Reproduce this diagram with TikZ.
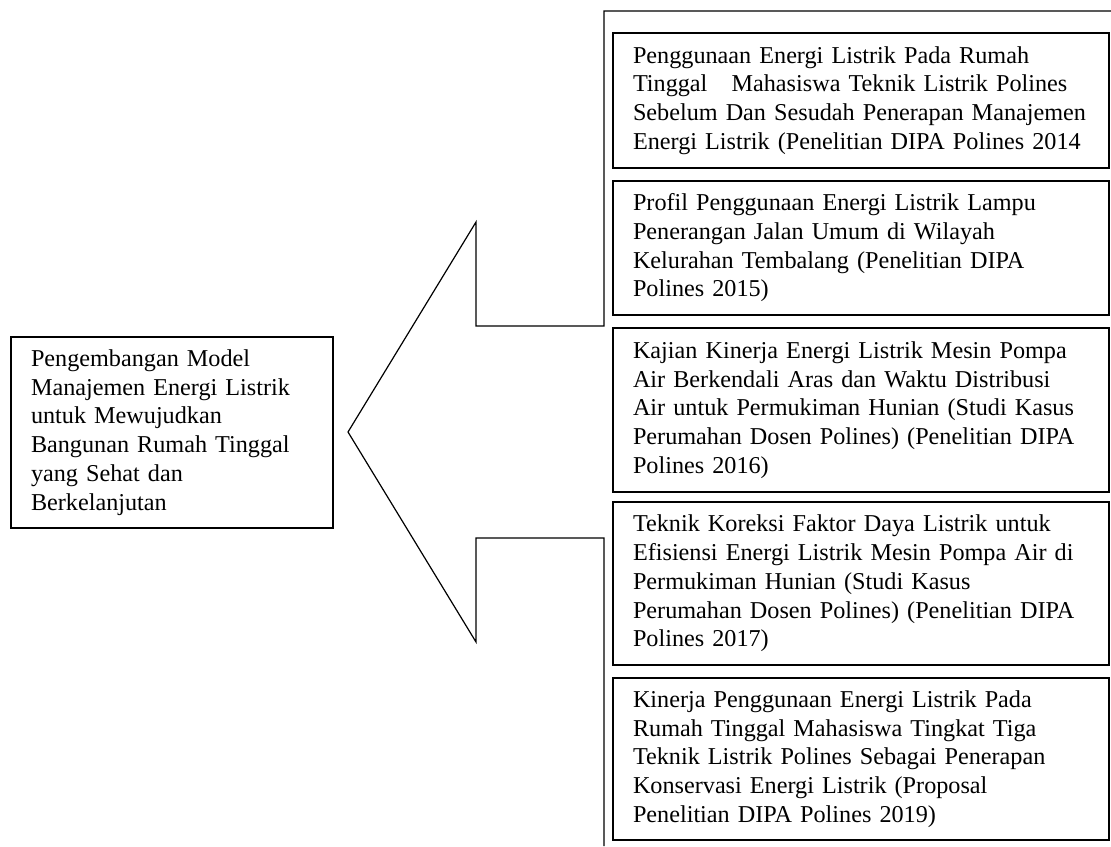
\documentclass[tikz,border=0pt]{standalone}
\usepackage{fontspec}
\setmainfont{Liberation Serif}
\tikzset{
	kotak/.style={draw, line width=0.8pt, inner xsep=10pt, inner ysep=0pt, align=left, font=\fontsize{12.1}{14.35}\selectfont},
	kanan/.style={kotak, minimum width=248pt, text width=228pt},
}

\begin{document}
\begin{tikzpicture}[x=0.5pt, y=-0.5pt]
		%%%%% START %%%%%
		\useasboundingbox (0, 0) rectangle (1111, 846);
		
		\node[kotak, minimum width=161pt, minimum height=95.5pt, text width=141pt] (utama) at (172, 432.5) {Pengembangan Model\\Manajemen Energi Listrik\\untuk Mewujudkan\\Bangunan Rumah Tinggal\\yang Sehat dan\\Berkelanjutan};
		
		\draw[line width=0.6pt] (1111, 11) -- (604, 11) -- (604, 326) -- (476, 326) -- (476, 222) -- (348, 432) -- (476, 642) -- (476, 538) -- (604, 538) -- (604, 846);
		
		\node[kanan, minimum height=67.5pt] (p2014) at (861, 100.5) {Penggunaan Energi Listrik Pada Rumah\\Tinggal\ \ \ Mahasiswa Teknik Listrik Polines\\Sebelum Dan Sesudah Penerapan Manajemen\\Energi Listrik (Penelitian DIPA Polines 2014};
		\node[kanan, minimum height=67pt] (p2015) at (861, 248) {Profil Penggunaan Energi Listrik Lampu\\Penerangan Jalan Umum di Wilayah\\Kelurahan Tembalang (Penelitian DIPA\\Polines 2015)};
		\node[kanan, minimum height=82pt] (p2016) at (861, 410) {Kajian Kinerja Energi Listrik Mesin Pompa\\Air Berkendali Aras dan Waktu Distribusi\\Air untuk Permukiman Hunian (Studi Kasus\\Perumahan Dosen Polines) (Penelitian DIPA\\Polines 2016)};
		\node[kanan, minimum height=81.5pt] (p2017) at (861, 583.5) {Teknik Koreksi Faktor Daya Listrik untuk\\Efisiensi Energi Listrik Mesin Pompa Air di\\Permukiman Hunian (Studi Kasus\\Perumahan Dosen Polines) (Penelitian DIPA\\Polines 2017)};
		\node[kanan, minimum height=81pt] (p2019) at (861, 759) {Kinerja Penggunaan Energi Listrik Pada\\Rumah Tinggal Mahasiswa Tingkat Tiga\\Teknik Listrik Polines Sebagai Penerapan\\Konservasi Energi Listrik (Proposal\\Penelitian DIPA Polines 2019)};
		
		%%%%% END %%%%%
	\end{tikzpicture}
\end{document}
